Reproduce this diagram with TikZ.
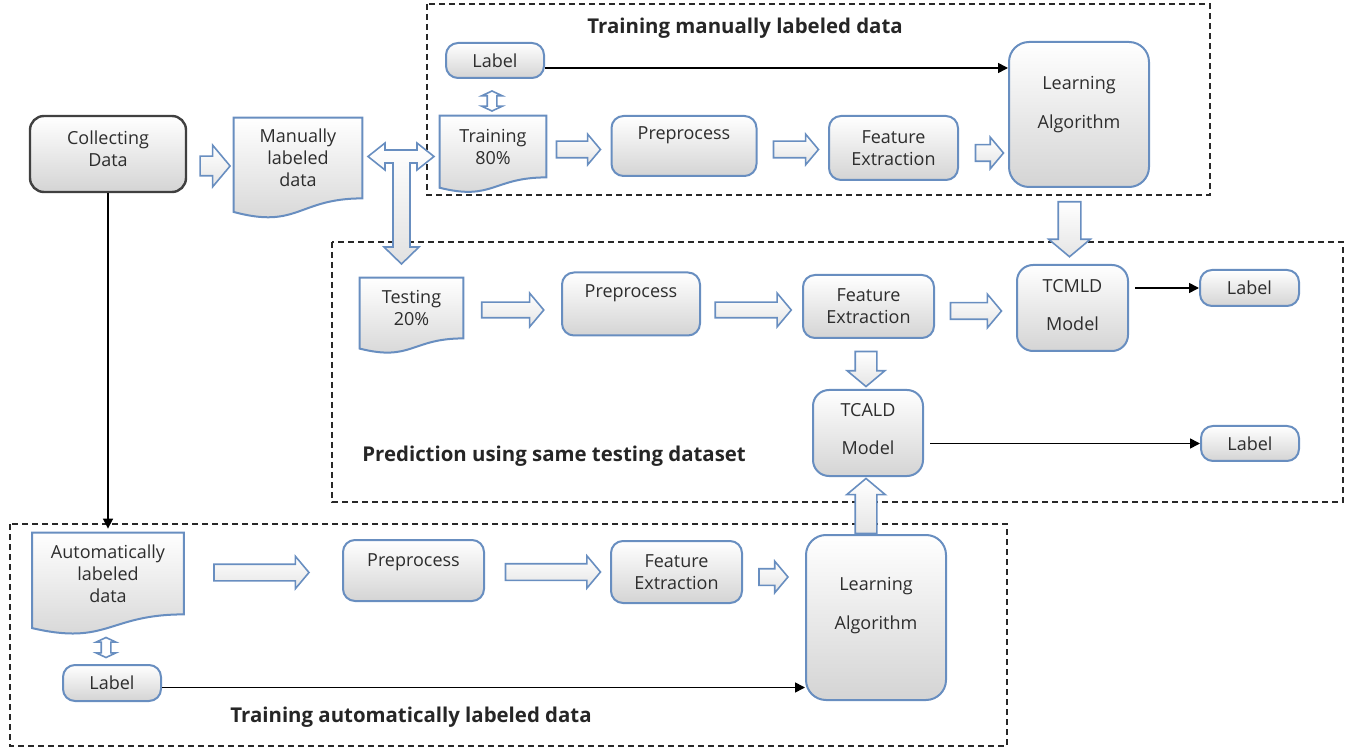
\documentclass[tikz,border=0pt]{standalone}
\usepackage{fontspec}
\setmainfont{Open Sans}
\usetikzlibrary{shapes.arrows,arrows.meta,calc,backgrounds}

\definecolor{boxblue}{RGB}{104,142,192}
\definecolor{boxgray}{RGB}{212,212,212}
\definecolor{txtgray}{RGB}{45,45,45}
\definecolor{framegray}{RGB}{40,40,40}

\tikzset{
  box/.style={draw=boxblue, line width=1pt, rounded corners=6pt, top color=white, bottom color=boxgray,
    align=center, text=txtgray, inner sep=0pt, font=\fontsize{9}{11}\selectfont},
  docbox/.style={inner sep=0pt, align=center, text=txtgray, font=\fontsize{9}{11}\selectfont},
  docline/.style={draw=boxblue, line width=1pt, top color=white, bottom color=boxgray},
  fatarrow/.style={single arrow, draw=boxblue, line width=0.8pt, top color=white, bottom color=boxgray!60,
    inner xsep=0pt, single arrow tip angle=100},
  fat/.style n args={3}{fatarrow, minimum height={#1*0.5pt}, inner ysep={#3*0.25pt},
    single arrow head extend={(#2-#3)*0.25pt}},
  fatdouble/.style n args={3}{double arrow, draw=boxblue, line width=0.8pt, fill=white, inner xsep=0pt,
    double arrow tip angle=130, minimum height={#1*0.5pt}, inner ysep={#3*0.25pt},
    double arrow head extend={(#2-#3)*0.25pt}},
  link/.style={line width=0.8pt, black, -{Triangle[length=5pt,width=5pt]}},
  frame/.style={dash pattern=on 3pt off 2pt, line width=0.8pt, framegray},
  title/.style={anchor=west, inner sep=0pt, font=\fontsize{10.2}{12}\selectfont\bfseries, text=black!85}
}

% outline of a document shape (wavy bottom) round a node
\newcommand{\docoutline}[1]{%
  \path[docline] let \p1=(#1.north west), \p2=(#1.south east), \n1={\y1-\y2}, \n2={\x2-\x1} in
    (\p1) -- (\x2,\y1) -- (\p2)
    .. controls ({\x1+0.5*\n2},\y2) and ({\x1+0.5*\n2},{\y2-0.384*\n1}) .. (\x1,{\y2-0.1675*\n1}) -- cycle;}

\begin{document}
\begin{tikzpicture}[x=0.5pt, y=-0.5pt]
    \useasboundingbox (0,0) rectangle (1349,748);

    % Dashed frames and their titles
    \draw[frame] (427,4) rectangle (1210,195);
    \draw[frame] (332,242) rectangle (1343,502);
    \draw[frame] (10,524) rectangle (1007,746);
    \node[title] (ttop) at (587,28) {Training manually labeled data};
    \node[title] (tmid) at (362,456) {Prediction using same testing dataset};
    \node[title] (tbot) at (230,717) {Training automatically labeled data};

    % Collecting and splitting the data
    \node[box, draw=black!75, line width=1.2pt, rounded corners=7pt, minimum width=78pt, minimum height=38pt,
      text depth=5.5pt] (collect) at (108,154) {Collecting\\Data};
    \node[docbox, minimum width=64pt, minimum height=40pt] (manual) at (298,158) {Manually\\labeled\\data};
    \node[fat={30}{40}{18}] (a1) at (211,166) {};
    \draw[draw=boxblue, line width=0.8pt, top color=white, bottom color=boxgray!70]
      (368,156.5) -- (385,143) -- (385,150) -- (417,150) -- (417,143) -- (434,156.5) -- (417,170)
      -- (417,163) -- (410,163) -- (410,247) -- (419,247) -- (401.5,264) -- (384,247) -- (393,247)
      -- (393,163) -- (385,163) -- (385,170) -- cycle;

    % Training manually labeled data
    \node[box, minimum width=49pt, minimum height=17.5pt] (lab1) at (495,60.5) {Label};
    \node[docbox, minimum width=53pt, minimum height=30.5pt] (train) at (493,146.5) {Training\\80\%};
    \node[fatdouble={20}{19}{8}, rotate=90] (d1) at (492,101) {};
    \node[box, minimum width=72.5pt, minimum height=30pt, text depth=13.2pt] (pre1) at (684,146) {Preprocess};
    \node[box, minimum width=64.5pt, minimum height=32pt] (feat1) at (893.5,148) {Feature\\Extraction};
    \node[box, rounded corners=10pt, minimum width=70pt, minimum height=72.5pt, text depth=12.2pt]
      (learn1) at (1079,114.5) {Learning\\[8.5pt]Algorithm};
    \node[fat={44}{29}{15}] (a2) at (575,149.5) {};
    \node[fat={45}{29}{15}] (a3) at (792.5,149.5) {};
    \node[fat={28}{30}{15}] (a4) at (986,153) {};
    \coordinate (l1) at ($(lab1.east)+(0,7.5)$);
    \draw[link] (l1) -- (l1 -| learn1.west);

    % Prediction using same testing dataset
    \node[docbox, minimum width=51.5pt, minimum height=30pt] (test) at (411.5,308) {Testing\\20\%};
    \node[box, minimum width=69pt, minimum height=31.5pt, text depth=12.7pt] (pre2) at (631,304) {Preprocess};
    \node[box, minimum width=65.5pt, minimum height=31.5pt] (feat2) at (868.5,306.5) {Feature\\Extraction};
    \node[box, rounded corners=8pt, minimum width=55.5pt, minimum height=43pt, text depth=3pt]
      (tcmld) at (1072.5,308) {TCMLD\\[8pt]Model};
    \node[box, minimum width=49.5pt, minimum height=18pt] (lab2) at (1249.5,288) {Label};
    \node[box, rounded corners=8pt, minimum width=55pt, minimum height=43pt, text depth=4.5pt]
      (tcald) at (868,433) {TCALD\\[8pt]Model};
    \node[box, minimum width=49pt, minimum height=17.5pt] (lab3) at (1250,443.5) {Label};
    \node[fat={62}{32}{14}] (a6) at (509.5,310) {};
    \node[fat={76}{32}{14}] (a7) at (750,310) {};
    \node[fat={51}{32}{15}] (a8) at (972.5,311) {};
    \node[fat={55}{40}{21}, rotate=-90] (a5) at (1069.5,224.5) {};
    \node[fat={35}{36}{20}, rotate=-90] (a9) at (866,364.5) {};
    \draw[link, shorten <=3pt] (tcmld.east |- lab2.west) -- (lab2.west);
    \draw[link, shorten <=3pt] (tcald.east |- lab3.west) -- (lab3.west);

    % Training automatically labeled data
    \node[docbox, minimum width=75.5pt, minimum height=40.5pt] (auto) at (108,573.5) {Automatically\\labeled\\data};
    \node[fatdouble={20}{18}{8}, rotate=90] (d2) at (106,647.5) {};
    \node[box, minimum width=49pt, minimum height=18pt] (lab4) at (112,683) {Label};
    \node[box, minimum width=70.5pt, minimum height=30.5pt, text depth=10.7pt] (pre3) at (413.5,570.5) {Preprocess};
    \node[box, minimum width=65.5pt, minimum height=31pt] (feat3) at (676.5,572) {Feature\\Extraction};
    \node[box, rounded corners=10pt, minimum width=70pt, minimum height=82.5pt, text depth=14.2pt]
      (learn2) at (876,617.5) {Learning\\[8.5pt]Algorithm};
    \node[fat={95}{31}{15}] (a11) at (258,572.5) {};
    \node[fat={95}{31}{15}] (a12) at (549.5,572) {};
    \node[fat={29}{30}{15}] (a13) at (770,577) {};
    \node[fat={55}{37}{20}, rotate=90] (a10) at (866,510.5) {};
    \coordinate (l4) at ($(lab4.east)+(0,4.5)$);
    \draw[link] (l4) -- (l4 -| learn2.west);
    \draw[link, shorten >=2pt] (collect.south) -- (auto.north);

    % Document outlines go behind their texts
    \begin{scope}[on background layer]
        \docoutline{manual}
        \docoutline{train}
        \docoutline{test}
        \docoutline{auto}
    \end{scope}
\end{tikzpicture}
\end{document}
